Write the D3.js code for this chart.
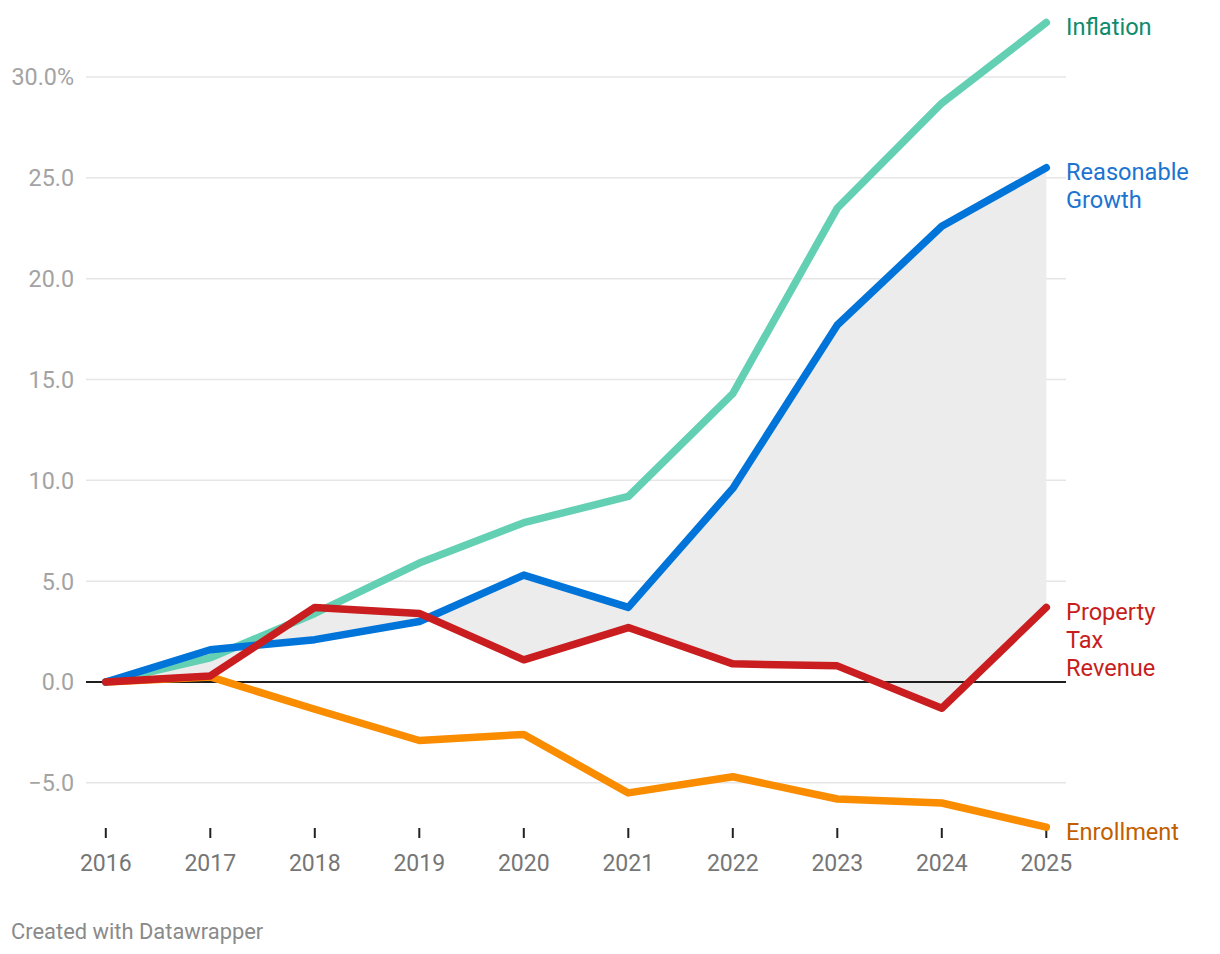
<!DOCTYPE html>
<html><head><meta charset="utf-8">
<script src="https://cdn.jsdelivr.net/npm/d3@7"></script>
<style>
html,body{margin:0;padding:0;background:#fff;}
svg{display:block;font-family:Roboto,"Noto Sans",sans-serif;}
</style></head>
<body><svg id="chart" width="1220" height="954"></svg>
<script>
const years = [2016,2017,2018,2019,2020,2021,2022,2023,2024,2025];
const inflation = [0,1.2,3.4,5.9,7.9,9.2,14.3,23.5,28.7,32.7];
const reasonableGrowth = [0,1.6,2.1,3.0,5.3,3.7,9.6,17.7,22.6,25.5];
const propertyTax = [0,0.3,3.7,3.4,1.1,2.7,0.9,0.8,-1.3,3.7];
const enrollment = [0,0.25,-1.35,-2.9,-2.6,-5.5,-4.7,-5.8,-6.0,-7.2];
const yTicks = [-5,0,5,10,15,20,25,30];

const series = [
  {name:["Enrollment"], values:enrollment, color:"#fa8c00", label:"#c25e00"},
  {name:["Inflation"], values:inflation, color:"#63d0b4", label:"#0f8a6c"},
  {name:["Reasonable","Growth"], values:reasonableGrowth, color:"#0074d9", label:"#1b74d0"},
  {name:["Property","Tax","Revenue"], values:propertyTax, color:"#c91d1f", label:"#c71e1d"}
];

const svg = d3.select("#chart");
const x = d3.scaleLinear().domain([2016,2025]).range([105.8,1046.3]);
const y = d3.scaleLinear().domain([0,30]).range([682,77]);
const gridL = 86, gridR = 1066;

// gridlines
const grid = svg.append("g");
grid.selectAll("line").data(yTicks.filter(d=>d!==0)).join("line")
  .attr("x1",gridL).attr("x2",gridR)
  .attr("y1",d=>y(d)).attr("y2",d=>y(d))
  .attr("stroke","#e6e6e6").attr("stroke-width",1.5);

// y labels
svg.append("g").selectAll("text").data(yTicks).join("text")
  .attr("x",74).attr("y",d=>y(d)).attr("dy","0.36em")
  .attr("text-anchor","end").attr("font-size",23.3).attr("fill","#a3a3a3")
  .text(d=>{const s=d3.format(".1f")(Math.abs(d)); return (d<0?"\u2212":"")+s+(d===30?"%":"");});

// area between reasonable growth and property tax
const area = d3.area().x((d,i)=>x(years[i])).y0((d,i)=>y(propertyTax[i])).y1((d,i)=>y(reasonableGrowth[i]));
svg.append("path").datum(years).attr("d",area).attr("fill","#ececec");

// zero line
svg.append("line").attr("x1",gridL).attr("x2",gridR).attr("y1",y(0)).attr("y2",y(0))
  .attr("stroke","#1e1e1e").attr("stroke-width",2);

// x ticks
const xa = svg.append("g");
xa.selectAll("line").data(years).join("line")
  .attr("x1",d=>x(d)).attr("x2",d=>x(d)).attr("y1",828).attr("y2",838)
  .attr("stroke","#222").attr("stroke-width",2);
xa.selectAll("text").data(years).join("text")
  .attr("x",d=>x(d)).attr("y",863).attr("dy","0.36em").attr("text-anchor","middle")
  .attr("font-size",23).attr("fill","#767676").text(d=>d);

// lines
const line = d3.line().x((d,i)=>x(years[i])).y(d=>y(d));
series.forEach(s=>{
  svg.append("path").datum(s.values).attr("d",line).attr("fill","none")
    .attr("stroke",s.color).attr("stroke-width",7.5)
    .attr("stroke-linejoin","round").attr("stroke-linecap","round");
});

// labels
series.forEach(s=>{
  const last = s.values[s.values.length-1];
  const t = svg.append("text").attr("x",1066).attr("y",y(last)+4)
    .attr("font-size",23.6).attr("fill",s.label);
  s.name.forEach((n,i)=>{
    t.append("tspan").attr("x",1066).attr("dy", i===0?"0.36em":"1.18em").text(n);
  });
});

// footer
svg.append("text").attr("x",11).attr("y",931).attr("dy","0.36em")
  .attr("font-size",21.9).attr("fill","#8a8a8a").text("Created with Datawrapper");
</script></body></html>
